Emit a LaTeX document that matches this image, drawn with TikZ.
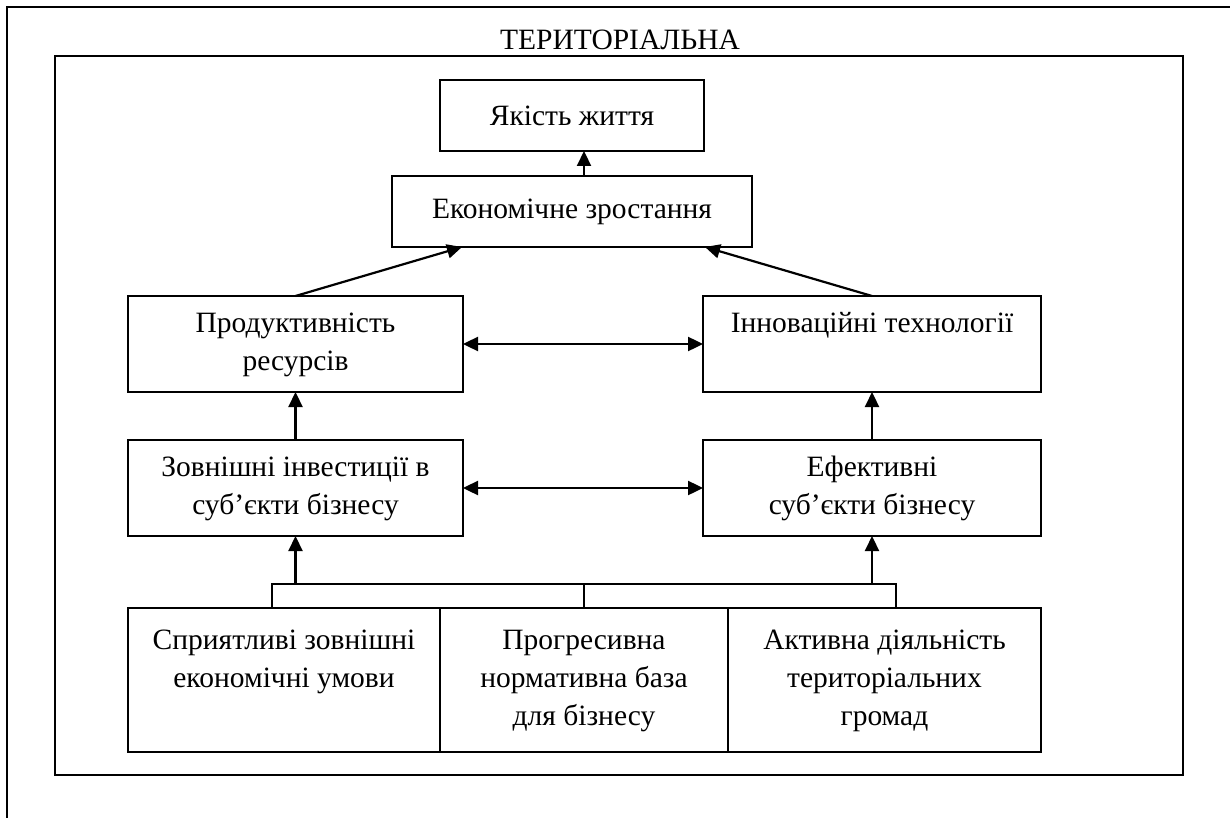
\documentclass[tikz,border=0pt]{standalone}
\usepackage{fontspec}
\setmainfont{Liberation Serif}
\usetikzlibrary{arrows.meta, positioning}

\begin{document}
\begin{tikzpicture}[
  x=1pt, y=-1pt,
  line width=2pt,
  font=\fontsize{29.5}{38}\selectfont,
  box/.style={draw, align=center, inner sep=0pt, outer sep=0pt, minimum height=96pt},
  arr/.style={-{Triangle[length=15pt, width=14pt]}, line width=2.2pt},
  arrs/.style={{Triangle[length=15pt, width=14pt]}-{Triangle[length=15pt, width=14pt]}, line width=2.4pt}
]
\useasboundingbox (0,0) rectangle (1230,818);
% frames
\draw (7,818) -- (7,7) -- (1230,7);
\draw (55,56) rectangle (1183,775);
\node (terr) at (620,40) {ТЕРИТОРІАЛЬНА};

\node[box, minimum width=264pt, minimum height=71pt] (life) at (572,115.5) {Якість життя};
\node[box, minimum width=360pt, minimum height=71pt] (growth) at (572,211.5) {Економічне зростання};
\node[box, minimum width=335pt] (prod) at (295.5,344) {\strut Продуктивність\\\strut ресурсів};
\node[box, minimum width=338pt] (innov) at (872,344) {\strut Інноваційні технології\\\strut};
\node[box, minimum width=335pt] (invest) at (295.5,488) {\strut Зовнішні інвестиції в\\\strut суб’єкти бізнесу};
\node[box, minimum width=338pt] (firms) at (872,488) {\strut Ефективні\\\strut суб’єкти бізнесу};

\node[box, minimum width=312pt, minimum height=144pt] (cond) at (284,680) {\strut Сприятливі зовнішні\\\strut економічні умови\\\strut};
\node[box, minimum width=288pt, minimum height=144pt, right=0pt of cond] (law) {\strut Прогресивна\\\strut нормативна база\\\strut для бізнесу};
\node[box, minimum width=313pt, minimum height=144pt, right=0pt of law] (comm) {\strut Активна діяльність\\\strut територіальних\\\strut громад};

% bus
\coordinate (busL) at (272,584);
\coordinate (busR) at (896,584);
\draw (busL |- cond.north) -- (busL) -- (busR) -- (busR |- comm.north);
\draw (law.north) -- (law.north |- busL);
\draw[arr] (invest.south |- busL) -- (invest.south);
\draw[arr] (firms.south |- busR) -- (firms.south);

\draw[arr] (invest) -- (prod);
\draw[arr] (firms) -- (innov);
\draw[arrs] (prod) -- (innov);
\draw[arrs] (invest) -- (firms);
\draw[arr] (prod.north) -- ([xshift=-110pt]growth.south);
\draw[arr] (innov.north) -- ([xshift=133pt]growth.south);
\draw[arr] ([xshift=12pt]growth.north) -- ([xshift=12pt]life.south);
\end{tikzpicture}
\end{document}
